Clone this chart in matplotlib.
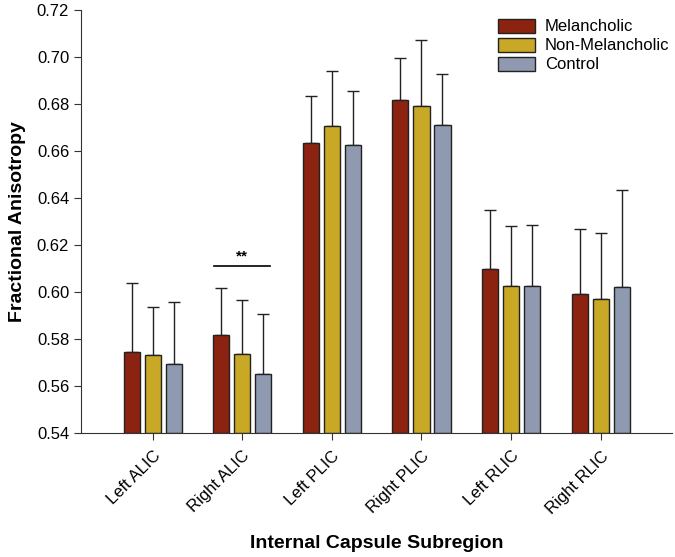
#
# Fractional anisotropy by internal capsule subregion
#

import numpy as np
import matplotlib.pyplot as plt

plt.rcParams['font.family'] = ['Liberation Sans', 'DejaVu Sans']

regions = ['Left ALIC', 'Right ALIC', 'Left PLIC', 'Right PLIC', 'Left RLIC', 'Right RLIC']
groups = ['Melancholic', 'Non-Melancholic', 'Control']
colors = ['#8c2210', '#c9a826', '#8f99b0']

# mean FA and upper error (top of the whisker) per group
means = {
    'Melancholic':     [0.5746, 0.5816, 0.6633, 0.6815, 0.6096, 0.5990],
    'Non-Melancholic': [0.5730, 0.5737, 0.6708, 0.6792, 0.6027, 0.5972],
    'Control':         [0.5694, 0.5651, 0.6627, 0.6712, 0.6024, 0.6022],
}
tops = {
    'Melancholic':     [0.6037, 0.6015, 0.6833, 0.6997, 0.6350, 0.6270],
    'Non-Melancholic': [0.5937, 0.5967, 0.6940, 0.7073, 0.6283, 0.6250],
    'Control':         [0.5957, 0.5908, 0.6855, 0.6928, 0.6287, 0.6432],
}
sig_pair = (1, 0, 2)  # Right ALIC, Melancholic vs Control
sig_y = 0.6110

fig = plt.figure(figsize=(6.75, 5.57), dpi=100)
ax = fig.add_axes([0.12, 0.2226, 0.876, 0.7594])

x = np.arange(len(regions))
offset = 0.235
width = 0.18
for i, g in enumerate(groups):
    m = np.array(means[g])
    err = np.array(tops[g]) - m
    ax.bar(x + (i - 1) * offset, m - 0.54, width, bottom=0.54, color=colors[i],
           edgecolor='#222222', linewidth=1.0, label=g, zorder=2)
    ax.errorbar(x + (i - 1) * offset, m, yerr=[np.zeros_like(err), err],
                fmt='none', ecolor='#222222', elinewidth=1.0, capsize=4.5,
                capthick=1.0, zorder=1)

# significance marker
r, a, b = sig_pair
ax.plot([x[r] + (a - 1) * offset - 0.08, x[r] + (b - 1) * offset + 0.08],
        [sig_y, sig_y], color='black', linewidth=1.2)
ax.text(x[r], sig_y + 0.001, '**', ha='center', va='bottom', fontsize=11,
        fontweight='bold')

ax.set_xlim(-0.8, 5.8)
ax.set_ylim(0.54, 0.72)
ax.set_yticks(np.arange(0.54, 0.7201, 0.02))
ax.set_yticklabels(['%.2f' % v for v in np.arange(0.54, 0.7201, 0.02)])
ax.set_xticks(x)
ax.set_xticklabels(regions, rotation=45, ha='right', rotation_mode='anchor')
ax.tick_params(labelsize=12, direction='out', length=5, color='#333333')
ax.tick_params(axis='x', pad=6)
for s in ['top', 'right']:
    ax.spines[s].set_visible(False)
for s in ['left', 'bottom']:
    ax.spines[s].set_color('#333333')

ax.set_ylabel('Fractional Anisotropy', fontsize=14, fontweight='bold', labelpad=8)
ax.set_xlabel('Internal Capsule Subregion', fontsize=14, fontweight='bold', labelpad=13)

ax.legend(loc='upper right', bbox_to_anchor=(1.02, 1.015), frameon=False,
          fontsize=12, handlelength=2.2, handleheight=0.9, labelspacing=0.2,
          handletextpad=0.6)

fig.savefig('out.png')
